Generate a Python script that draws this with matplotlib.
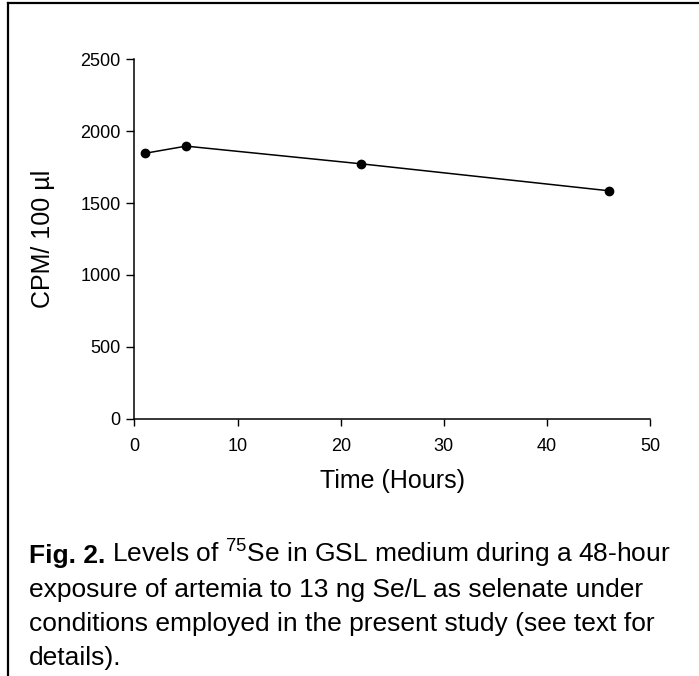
import matplotlib
matplotlib.use('Agg')
import matplotlib.pyplot as plt
from matplotlib.lines import Line2D

# Datos
horas = [1, 5, 22, 46]
cpm = [1845, 1895, 1772, 1585]
ticks_x = [0, 10, 20, 30, 40, 50]
ticks_y = [0, 500, 1000, 1500, 2000, 2500]

plt.rcParams['font.family'] = ['Liberation Sans', 'DejaVu Sans']
plt.rcParams['mathtext.fontset'] = 'custom'
plt.rcParams['mathtext.rm'] = 'Liberation Sans'
plt.rcParams['mathtext.it'] = 'Liberation Sans'

fig = plt.figure(figsize=(6.99, 6.76), dpi=100)
ax = fig.add_axes([0.1924, 0.3802, 0.7375, 0.5325])

ax.plot(horas, cpm, color='black', linewidth=1.1, marker='o', markersize=6)

ax.set_xlim(0, 50)
ax.set_ylim(0, 2500)
ax.set_xticks(ticks_x)
ax.set_yticks(ticks_y)
ax.tick_params(axis='both', labelsize=13, direction='out', width=1, color='black')
ax.tick_params(axis='y', length=6, pad=4)
ax.tick_params(axis='x', length=5, pad=9)

ax.spines['top'].set_visible(False)
ax.spines['right'].set_visible(False)
ax.spines['left'].set_linewidth(1.1)
ax.spines['bottom'].set_linewidth(1.1)

ax.set_xlabel('Time (Hours)', fontsize=18, labelpad=10)
ax.set_ylabel('CPM/ 100 \u00b5l', fontsize=18, labelpad=18)

# Marco de la figura (solo borde superior e izquierdo)
fig.add_artist(Line2D([8 / 699, 1], [1 - 3 / 676, 1 - 3 / 676], color='black', linewidth=1.6,
                      transform=fig.transFigure))
fig.add_artist(Line2D([8 / 699, 8 / 699], [0, 1 - 3 / 676], color='black', linewidth=1.6,
                      transform=fig.transFigure))

# Leyenda de la figura: "Fig. 2." en negrita y el resto a continuacion
x0 = 29 / 699
tam = 19
negrita = fig.text(x0, 1 - 563 / 676, 'Fig. 2.', fontsize=tam, fontweight='bold',
                   ha='left', va='baseline')
fig.canvas.draw()
ancho = negrita.get_window_extent().width / fig.bbox.width
fig.text(x0 + ancho, 1 - 563 / 676, ' Levels of $^{75}$Se in GSL medium during a 48-hour',
         fontsize=tam, ha='left', va='baseline')

lineas = [
    'exposure of artemia to 13 ng Se/L as selenate under',
    'conditions employed in the present study (see text for',
    'details).',
]
base = [597, 631, 665]
for texto, y in zip(lineas, base):
    fig.text(x0, 1 - y / 676, texto, fontsize=tam, ha='left', va='baseline')

plt.savefig('out.png', dpi=100)
plt.close()
